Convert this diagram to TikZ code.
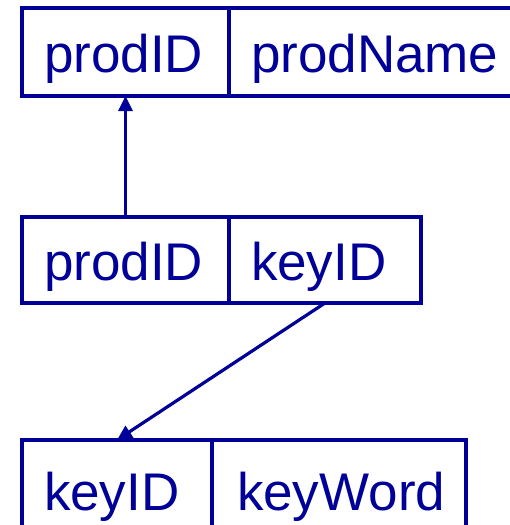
\documentclass[tikz,border=0pt]{standalone}
\usepackage{fontspec}
\setmainfont{Liberation Sans}
\usetikzlibrary{positioning,arrows.meta}
\definecolor{relblue}{RGB}{0,0,153}
\tikzset{
  cell/.style={draw=relblue, text=relblue, line width=3.4pt, outer sep=0pt,
    inner xsep=22pt, inner ysep=0pt, align=left,
    text height=44pt, text depth=4pt, font=\fontsize{53}{60}\selectfont},
  link/.style={draw=relblue, line width=3.2pt, -{Triangle[length=15pt,width=14pt]}}
}

\begin{document}
\begin{tikzpicture}[x=1pt,y=1pt]
        \useasboundingbox (0,0) rectangle (510,-525);
        % product table
        \node[cell, anchor=north west, minimum height=88pt, text width=163pt] (prodKey) at (22,-8) {prodID};
        \node[cell, right=0pt of prodKey, minimum height=88pt, text width=290pt] (prodName) {prodName};
        % link table
        \node[cell, anchor=north west, minimum height=86pt, text width=163pt] (linkProd) at (22,-217) {prodID};
        \node[cell, right=0pt of linkProd, minimum height=86pt, text width=148pt] (linkKey) {keyID};
        % keyword table
        \node[cell, anchor=north west, minimum height=100pt, text width=146pt] (wordKey) at (22,-440) {keyID};
        \node[cell, right=0pt of wordKey, minimum height=100pt, inner xsep=25pt, text width=204pt] (wordName) {keyWord};

        % arrows
        \draw[link] (linkProd.north) -- (prodKey.south);
        \draw[link] (linkKey.south) -- (wordKey.north);
    \end{tikzpicture}
\end{document}
